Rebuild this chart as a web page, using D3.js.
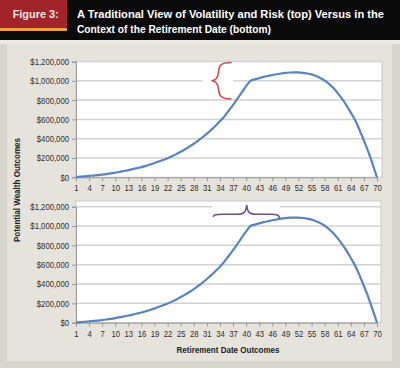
<!DOCTYPE html>
<html>
<head>
<meta charset="utf-8">
<script src="https://cdn.jsdelivr.net/npm/d3@7"></script>
<style>
  body { margin: 0; background: #d8d5cd; }
  svg { display: block; }
  .tick text { font-family: "Liberation Sans", sans-serif; font-size: 9.2px; fill: #2e2e2e; }
</style>
</head>
<body>
<svg id="fig" width="400" height="368"></svg>
<script>
// retirement date outcomes (x) and potential wealth (y)
const periods = d3.range(1, 71)
const wealth = [
  3000, 6000, 10000, 14000, 18000, 22000, 27000, 33000, 40000, 48000,
  57000, 65000, 74000, 84000, 95000, 105000, 118000, 132000, 148000, 165000,
  180000, 198000, 218000, 240000, 265000, 290000, 318000, 348000, 380000, 415000,
  452000, 492000, 535000, 580000, 630000, 690000, 750000, 815000, 880000, 945000,
  1000000, 1015000, 1028000, 1040000, 1050000, 1060000, 1068000, 1076000, 1082000, 1086000,
  1088000, 1087000, 1083000, 1076000, 1066000, 1050000, 1030000, 1003000, 968000, 925000,
  872000, 812000, 745000, 670000, 590000, 490000, 380000, 265000, 135000, 0
]
const yTicks = [0, 200000, 400000, 600000, 800000, 1000000, 1200000]
const xTicks = d3.range(1, 71, 3)
const titleLines = ["A Traditional View of Volatility and Risk (top) Versus in the",
                    "Context of the Retirement Date (bottom)"]

const svg = d3.select("#fig")
const data = periods.map((p, i) => ({p: p, v: wealth[i]}))

// header bar
svg.append("rect").attr("x", 0).attr("y", 0).attr("width", 400).attr("height", 40).attr("fill", "#0a0a0a")
svg.append("rect").attr("x", 0).attr("y", 40).attr("width", 400).attr("height", 4).attr("fill", "#eceae4")
svg.append("rect").attr("x", 0).attr("y", 0).attr("width", 67).attr("height", 28).attr("fill", "#a3232a")
svg.append("rect").attr("x", 0).attr("y", 28).attr("width", 67).attr("height", 3).attr("fill", "#e9a437")
svg.append("text").attr("x", 12.7).attr("y", 18.3)
  .attr("textLength", 46).attr("lengthAdjust", "spacingAndGlyphs")
  .style("font-family", "Liberation Sans, sans-serif").style("font-weight", "bold").style("font-size", "11.5px")
  .style("fill", "#f6e3e3").text("Figure 3:")
titleLines.forEach(function(t, i) {
  svg.append("text").attr("x", 77).attr("y", 18.3 + i*14.4)
    .attr("textLength", i == 0 ? 307 : 194).attr("lengthAdjust", "spacingAndGlyphs")
    .style("font-family", "Liberation Sans, sans-serif").style("font-weight", "bold").style("font-size", "11.3px")
    .style("fill", "#fff").text(t)
})

// beige panel
svg.append("rect").attr("x", 7).attr("y", 44).attr("width", 385).attr("height", 317).attr("fill", "#e6e3dc")

const x = d3.scaleLinear().domain([1, 70]).range([76, 377])

function squeeze(sel) {//narrow the tick labels a bit, the original uses a condensed face
  sel.selectAll(".tick text").each(function() {
    let w = this.getComputedTextLength()
    d3.select(this).attr("textLength", w*0.84).attr("lengthAdjust", "spacingAndGlyphs")
  })
}

function panel(top, bottom, frameTop, frameRight) {
  const y = d3.scaleLinear().domain([0, 1200000]).range([bottom, top])
  const g = svg.append("g")
  g.append("rect").attr("x", 76).attr("y", frameTop).attr("width", frameRight - 76).attr("height", bottom - frameTop)
    .attr("fill", "#fff").attr("stroke", "#c9c9c9").attr("stroke-width", 1)
  g.selectAll(".grid").data(yTicks.slice(1)).enter().append("line")//gridlines
    .attr("x1", 76).attr("x2", frameRight).attr("y1", d => y(d)).attr("y2", d => y(d))
    .attr("stroke", "#d2d2d2").attr("stroke-width", 1.5)
  let yAxis = g.append("g").attr("transform", "translate(76,0)")
    .call(d3.axisLeft(y).tickValues(yTicks).tickSize(4).tickPadding(3).tickFormat(d3.format("$,")))
  yAxis.select(".domain").attr("stroke", "#9a9a9a")
  yAxis.selectAll(".tick line").attr("stroke", "#9a9a9a")
  squeeze(yAxis)
  let xAxis = g.append("g").attr("transform", "translate(0," + bottom + ")")
    .call(d3.axisBottom(x).tickValues(xTicks).tickSize(4).tickPadding(3.5).tickFormat(d3.format("d")))
  xAxis.select(".domain").attr("stroke", "#9a9a9a")
  xAxis.selectAll(".tick line").attr("stroke", "#9a9a9a")
  squeeze(xAxis)
  return {g: g, y: y}
}

function drawLine(p) {
  p.g.append("path").datum(data)
    .attr("fill", "none").attr("stroke", "#5a83bf").attr("stroke-width", 2.2)
    .attr("stroke-linejoin", "round")
    .attr("d", d3.line().x(d => x(d.p)).y(d => p.y(d.v)).curve(d3.curveMonotoneX))
}

// top chart
let topChart = panel(61.5, 177.3, 61.5, 382)
topChart.g.append("rect").attr("x", 203).attr("y", 74).attr("width", 30).attr("height", 14).attr("fill", "#fff")
drawLine(topChart)
topChart.g.append("path")//red vertical brace
  .attr("d", "M231.5,62.5 C220,62.5 219,66 218.5,72 C218,78 216,80.5 211.5,80.7 C216,81 218,83.5 218.5,89 C219,95 220,99 231.5,99")
  .attr("fill", "none").attr("stroke", "#c8494c").attr("stroke-width", 1.6)

// bottom chart
let botChart = panel(206.7, 322.7, 201, 381)
botChart.g.append("rect").attr("x", 212).attr("y", 203).attr("width", 68).attr("height", 9).attr("fill", "#fff")
drawLine(botChart)
botChart.g.append("path")//purple horizontal brace
  .attr("d", "M213.3,217 C213.5,214.5 216,214.3 222,214.3 L238,214.3 C244,214.3 246,212 246.7,205 C247.4,212 249.5,214.3 255.5,214.3 L271,214.3 C277,214.3 279,215 279.5,218")
  .attr("fill", "none").attr("stroke", "#6d4f8a").attr("stroke-width", 1.6)

// axis titles
svg.append("text").attr("transform", "translate(20,190) rotate(-90)")
  .attr("text-anchor", "middle").attr("textLength", 104).attr("lengthAdjust", "spacingAndGlyphs")
  .style("font-family", "Liberation Sans, sans-serif").style("font-weight", "bold").style("font-size", "9px")
  .style("fill", "#222").text("Potential Wealth Outcomes")
svg.append("text").attr("x", 228).attr("y", 353)
  .attr("text-anchor", "middle").attr("textLength", 103).attr("lengthAdjust", "spacingAndGlyphs")
  .style("font-family", "Liberation Sans, sans-serif").style("font-weight", "bold").style("font-size", "9px")
  .style("fill", "#222").text("Retirement Date Outcomes")
</script>
</body>
</html>
